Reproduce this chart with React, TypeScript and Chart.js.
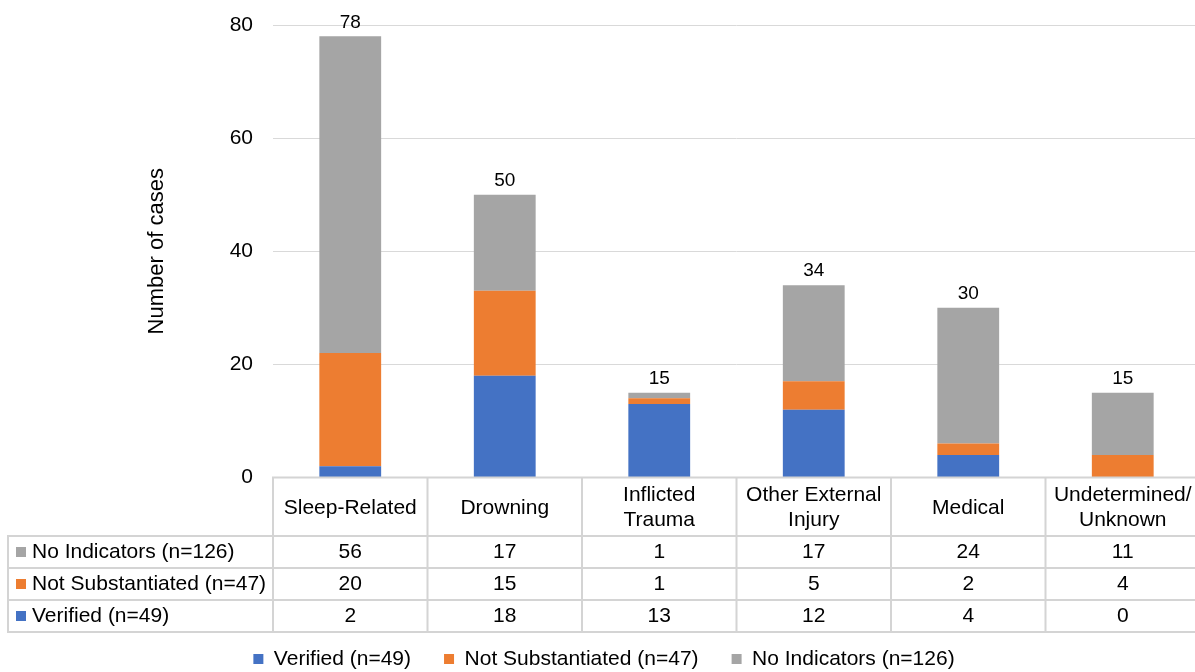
import React, { useEffect, useRef } from 'react';
import { Chart, registerables } from 'chart.js';

Chart.register(...registerables);

const categories: (string | string[])[] = [
  'Sleep-Related',
  'Drowning',
  ['Inflicted', 'Trauma'],
  ['Other External', 'Injury'],
  'Medical',
  ['Undetermined/', 'Unknown'],
];

const verified = [2, 18, 13, 12, 4, 0];
const notSubstantiated = [20, 15, 1, 5, 2, 4];
const noIndicators = [56, 17, 1, 17, 24, 11];

const seriesLabels = ['Verified (n=49)', 'Not Substantiated (n=47)', 'No Indicators (n=126)'];
const seriesColors = ['#4472C4', '#ED7D31', '#A5A5A5'];

const yMin = 0;
const yMax = 80;
const yStep = 20;
const yTitle = 'Number of cases';

const FONT = '"Liberation Sans", Arial, Helvetica, sans-serif';
const LINE = '#D4D4D4';

const tablePlugin = {
  id: 'tablePlugin',
  afterDraw(chart: any) {
    const { ctx, chartArea } = chart;
    const xs = chart.scales.x;
    const ys = chart.scales.y;
    const n = categories.length;
    const colW = (chartArea.right - chartArea.left) / n;
    const top = chartArea.bottom;
    const headerBottom = top + 58.5;
    const rowH = 32;
    const rowOrder = [2, 1, 0];
    const tableBottom = headerBottom + rowH * rowOrder.length;
    const leftX = 8;
    const rightX = chart.width + 5;

    ctx.save();

    // totals above bars
    ctx.font = `19px ${FONT}`;
    ctx.fillStyle = '#000';
    ctx.textAlign = 'center';
    ctx.textBaseline = 'middle';
    for (let i = 0; i < n; i++) {
      let total = 0;
      chart.data.datasets.forEach((ds: any) => { total += ds.data[i]; });
      const px = xs.getPixelForValue(i);
      const py = ys.getPixelForValue(total);
      ctx.fillText(String(total), px, py - 14);
    }

    // grid of table
    ctx.strokeStyle = LINE;
    ctx.lineWidth = 2;
    ctx.beginPath();
    ctx.moveTo(chartArea.left - 1, top);
    ctx.lineTo(rightX, top);
    for (let r = 0; r <= rowOrder.length; r++) {
      const yy = headerBottom + r * rowH;
      ctx.moveTo(leftX - 1, yy);
      ctx.lineTo(rightX, yy);
    }
    ctx.moveTo(leftX, headerBottom);
    ctx.lineTo(leftX, tableBottom);
    for (let i = 0; i <= n; i++) {
      const xx = chartArea.left + i * colW;
      ctx.moveTo(xx, top);
      ctx.lineTo(xx, tableBottom);
    }
    ctx.stroke();

    // rows
    ctx.font = `21px ${FONT}`;
    ctx.textBaseline = 'middle';
    rowOrder.forEach((di, r) => {
      const ds = chart.data.datasets[di];
      const cy = headerBottom + r * rowH + rowH / 2;
      ctx.fillStyle = ds.backgroundColor;
      ctx.fillRect(16, cy - 5, 10, 10);
      ctx.fillStyle = '#000';
      ctx.textAlign = 'left';
      ctx.fillText(ds.label, 32, cy);
      ctx.textAlign = 'center';
      for (let i = 0; i < n; i++) {
        ctx.fillText(String(ds.data[i]), xs.getPixelForValue(i), cy);
      }
    });

    ctx.restore();
  },
};

export default function App() {
  const ref = useRef<HTMLCanvasElement | null>(null);

  useEffect(() => {
    document.body.style.margin = '0';
    document.body.style.overflow = 'hidden';
    const canvas = ref.current;
    if (!canvas) return;
    const chart = new Chart(canvas, {
      type: 'bar',
      data: {
        labels: categories as any,
        datasets: [
          { label: seriesLabels[0], data: verified, backgroundColor: seriesColors[0], borderWidth: 0 },
          { label: seriesLabels[1], data: notSubstantiated, backgroundColor: seriesColors[1], borderWidth: 0 },
          { label: seriesLabels[2], data: noIndicators, backgroundColor: seriesColors[2], borderWidth: 0 },
        ],
      },
      options: {
        responsive: false,
        animation: false,
        devicePixelRatio: 1,
        layout: { padding: { top: 25, left: 8, right: 0, bottom: -7.5 } },
        datasets: { bar: { categoryPercentage: 1, barPercentage: 0.4 } } as any,
        plugins: {
          legend: {
            position: 'bottom',
            labels: {
              boxWidth: 10,
              boxHeight: 10,
              padding: 33,
              color: '#000',
              font: { family: FONT, size: 21 },
            },
          },
          tooltip: { enabled: false },
        },
        scales: {
          x: {
            stacked: true,
            grid: { display: false, drawTicks: false },
            border: { display: false },
            ticks: {
              color: '#000',
              font: { family: FONT, size: 21 },
              maxRotation: 0,
              minRotation: 0,
              autoSkip: false,
              padding: 18,
              crossAlign: 'center',
            },
            afterFit(scale: any) {
              scale.height = 138;
              scale.paddingLeft = 0;
              scale.paddingRight = 0;
            },
          },
          y: {
            stacked: true,
            min: yMin,
            max: yMax,
            grid: { color: '#D9D9D9', lineWidth: 1, drawTicks: false },
            border: { display: false },
            ticks: {
              stepSize: yStep,
              color: '#000',
              padding: 20,
              font: { family: FONT, size: 21 },
            },
            title: {
              display: true,
              text: yTitle,
              color: '#000',
              font: { family: FONT, size: 22 },
              padding: { top: 135.8, bottom: 0 },
            },
            afterFit(scale: any) {
              scale.width = 265;
              scale.paddingTop = 0;
              scale.paddingBottom = 0;
            },
          },
        },
      },
      plugins: [tablePlugin],
    });
    return () => chart.destroy();
  }, []);

  return (
    <div style={{ position: 'fixed', left: 0, top: 0, width: 1200, height: 672, background: '#fff' }}>
      <canvas ref={ref} width={1200} height={672} style={{ display: 'block', width: 1200, height: 672 }} />
    </div>
  );
}
